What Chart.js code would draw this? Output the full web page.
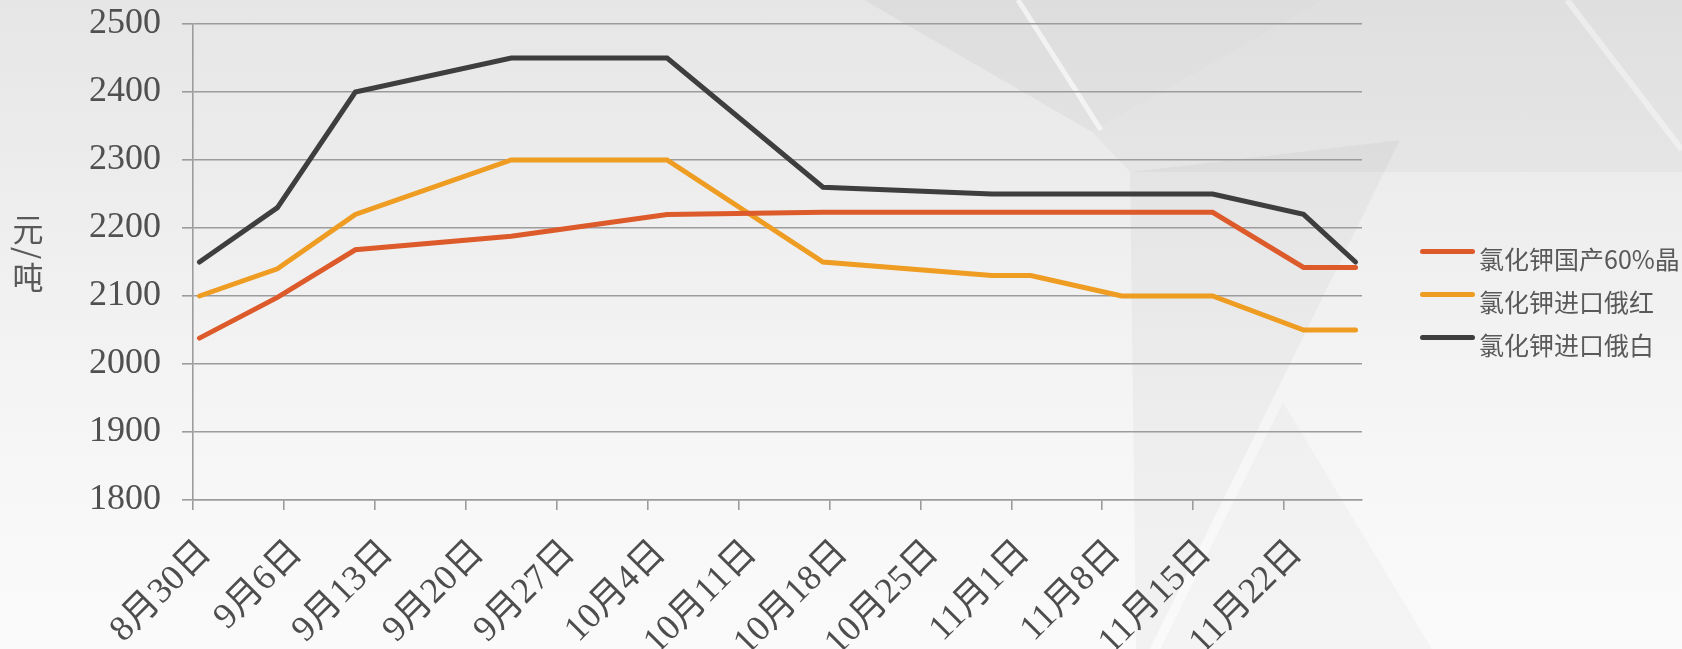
<!DOCTYPE html>
<html>
<head>
<meta charset="utf-8">
<script src="https://cdn.jsdelivr.net/npm/chart.js@4.4.1/dist/chart.umd.min.js"></script>
<style>
  html, body { margin: 0; padding: 0; }
  body {
    width: 1682px; height: 649px; overflow: hidden; position: relative;
    background: linear-gradient(#e6e6e6 0%, #ececec 25%, #f3f3f3 55%, #f8f8f8 80%, #fafafa 100%);
  }
  #bg, #chart { position: absolute; left: 0; top: 0; }
  #legend { position: absolute; left: 1420px; top: 236px; font: 25px "Noto Sans CJK SC"; color: #595959; }
  #legend .item { display: flex; align-items: center; height: 43px; white-space: nowrap; }
  #legend .swatch { width: 55px; height: 5px; border-radius: 3px; margin-right: 4px; position: relative; top: -6px; }
</style>
</head>
<body>
<svg id="bg" width="1682" height="649">
  <polygon points="864,0 1092,132 1324,0" fill="rgba(0,0,0,0.035)"/>
  <polygon points="1092,132 1324,0 1682,0 1682,172 1130,172" fill="rgba(0,0,0,0.028)"/>
  <line x1="1018" y1="0" x2="1101" y2="130" stroke="rgba(255,255,255,0.6)" stroke-width="5"/>
  <line x1="1567" y1="0" x2="1682" y2="150" stroke="rgba(255,255,255,0.4)" stroke-width="6"/>
  <polygon points="1130,172 1400,140 1150,649 1136,649" fill="rgba(0,0,0,0.03)"/>
  <polygon points="1283,402 1432,649 1160,649" fill="rgba(0,0,0,0.025)"/>
</svg>
<canvas id="chart" width="1682" height="649"></canvas>
<div id="legend"></div>
<script>
"use strict";

// observation dates (month-day) and prices, 元/吨
const dates = ["8-30", "9-5", "9-11", "9-23", "10-5", "10-17", "10-30", "11-2", "11-9", "11-16", "11-23", "11-27"];
const domestic60 = [2038, 2098, 2168, 2188, 2220, 2223, 2223, 2223, 2223, 2223, 2142, 2142];
const importRed = [2100, 2140, 2220, 2300, 2300, 2150, 2130, 2130, 2100, 2100, 2050, 2050];
const importWhite = [2150, 2230, 2400, 2450, 2450, 2260, 2250, 2250, 2250, 2250, 2220, 2150];

const seriesNames = ["氯化钾国产60%晶", "氯化钾进口俄红", "氯化钾进口俄白"];
const seriesColors = ["#DD5A2B", "#EE9C22", "#3E3E3E"];

const xTickLabels = ["8月30日", "9月6日", "9月13日", "9月20日", "9月27日", "10月4日", "10月11日",
  "10月18日", "10月25日", "11月1日", "11月8日", "11月15日", "11月22日"];
const yMin = 1800, yMax = 2500, yStep = 100;
const yTitle = "元/吨";

// days since 8/30 (date axis like a spreadsheet: each day is one slot, point in its middle)
function dayIndex(m, d) {
  return (Date.UTC(2021, m - 1, d) - Date.UTC(2021, 7, 30)) / 86400000;
}
const dateDays = dates.map((s) => { const [m, d] = s.split("-").map(Number); return dayIndex(m, d); });
const tickDays = xTickLabels.map((s) => { const [, m, d] = s.match(/(\d+)月(\d+)日/).map(Number); return dayIndex(m, d); });
const axisEnd = dateDays[dateDays.length - 1] + 1;

const toPoints = (vals) => vals.map((v, i) => ({ x: dateDays[i] + 0.5, y: v }));
const seriesValues = [domestic60, importRed, importWhite];

const gridColor = "#9c9c9c";
const fontFamily = '"Liberation Serif", "Noto Sans CJK SC"';

// stacked (upright) axis title; the slash is turned sideways as in vertical text
const stackedTitle = {
  id: "stackedTitle",
  afterDraw(chart) {
    const ctx = chart.ctx;
    const cx = 28;
    let y = 213;
    ctx.save();
    ctx.font = '31px "Noto Sans CJK SC"';
    ctx.fillStyle = "#595959";
    ctx.textAlign = "center";
    ctx.textBaseline = "middle";
    for (const ch of yTitle) {
      const adv = ch === "/" ? 16 : 32;
      ctx.save();
      ctx.translate(cx, y + adv / 2);
      if (ch === "/") ctx.rotate(Math.PI / 2);
      ctx.fillText(ch, 0, 0);
      ctx.restore();
      y += adv;
    }
    ctx.restore();
  },
};

new Chart(document.getElementById("chart"), {
  type: "line",
  data: {
    datasets: seriesValues.map((vals, i) => ({
      label: seriesNames[i],
      data: toPoints(vals),
      borderColor: seriesColors[i],
      backgroundColor: seriesColors[i],
      borderWidth: 5,
      borderCapStyle: "round",
      borderJoinStyle: "miter",
      pointRadius: 0,
      tension: 0,
    })),
  },
  plugins: [stackedTitle],
  options: {
    responsive: false,
    devicePixelRatio: 1,
    animation: false,
    layout: { padding: { left: 0, top: 24, right: 320, bottom: 0 } },
    plugins: { legend: { display: false }, tooltip: { enabled: false } },
    scales: {
      x: {
        type: "linear",
        min: 0,
        max: axisEnd,
        afterBuildTicks: (s) => { s.ticks = tickDays.map((v) => ({ value: v })); },
        afterFit: (s) => { s.height = 149; s.paddingLeft = 0; s.paddingRight = 0; },
        grid: { drawOnChartArea: false, drawTicks: true, tickLength: 10, color: gridColor, lineWidth: 1.6 },
        border: { color: gridColor, width: 1.6 },
        ticks: {
          autoSkip: false,
          minRotation: 45,
          maxRotation: 45,
          padding: 22,
          labelOffset: 13,
          color: "#4d4d4d",
          font: { family: fontFamily, size: 36 },
          callback: (v, i) => xTickLabels[i],
        },
      },
      y: {
        min: yMin,
        max: yMax,
        afterFit: (s) => { s.width = 193; s.paddingTop = 0; s.paddingBottom = 0; },
        grid: { color: gridColor, lineWidth: 1.6, tickLength: 11 },
        border: { color: gridColor, width: 1.6 },
        ticks: { stepSize: yStep, padding: 21, color: "#505050", font: { family: fontFamily, size: 36 }, callback: (v) => String(v) },
      },
    },
  },
});

// legend built from the same series lists
document.getElementById("legend").innerHTML = seriesNames
  .map((name, i) => `<div class="item"><span class="swatch" style="background:${seriesColors[i]}"></span>${name}</div>`)
  .join("");
</script>
</body>
</html>
